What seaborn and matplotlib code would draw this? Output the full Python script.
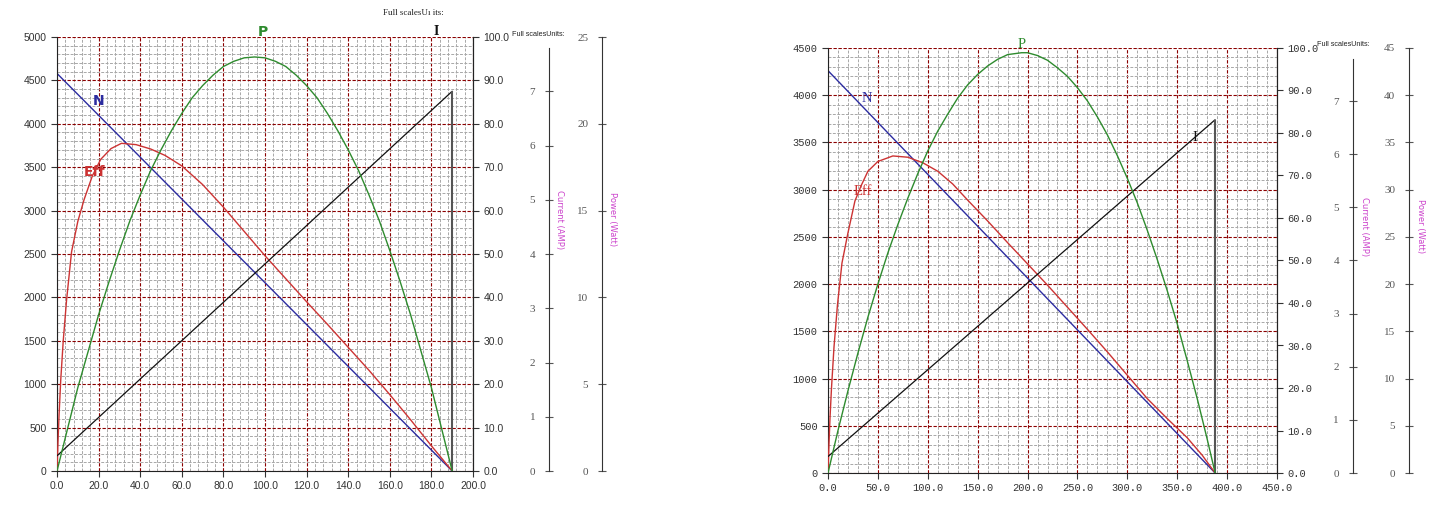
import numpy as np
import seaborn as sns
import matplotlib.pyplot as plt
from matplotlib.ticker import MultipleLocator, FormatStrFormatter

# ---- left motor (torque 0-200) ----
l_torque_n = [0, 190]
l_speed = [4580, 0]
l_torque_i = [0, 190]
l_current = [0.28, 7.0]
l_torque_eff = [0, 0.5, 1, 1.8, 3, 4.6, 7, 10, 13, 17, 21, 26, 31, 38, 45, 52, 60, 70,
                80, 90, 100, 110, 120, 130, 140, 150, 160, 170, 180, 190]
l_eff = [0, 7, 13, 21, 30, 39.4, 50.5, 57.5, 62.5, 68, 71.8, 74.3, 75.5, 75.2, 74.2, 72.7,
         70.3, 66.0, 60.8, 55.2, 49.6, 44.3, 39.0, 33.8, 28.5, 23.2, 17.6, 11.8, 5.8, 0]
l_torque_p = [0, 5, 10, 15, 20, 25, 30, 35, 40, 45, 50, 55, 60, 65, 70, 75, 80, 85, 90, 95,
              100, 105, 110, 115, 120, 125, 130, 135, 140, 145, 150, 155, 160, 165, 170,
              175, 180, 185, 190]
l_power = [0, 2.4, 4.8, 6.9, 9.0, 10.9, 12.7, 14.4, 15.9, 17.3, 18.5, 19.6, 20.6, 21.5, 22.2,
           22.8, 23.3, 23.6, 23.8, 23.85, 23.8, 23.6, 23.3, 22.8, 22.2, 21.5, 20.6, 19.6,
           18.5, 17.3, 15.9, 14.4, 12.7, 10.9, 9.0, 6.9, 4.8, 2.4, 0]

# ---- right motor (torque 0-450) ----
r_torque_n = [0, 388]
r_speed = [4260, 0]
r_torque_i = [0, 388]
r_current = [0.31, 6.65]
r_torque_eff = [0, 1, 2, 3.5, 6, 9.5, 14, 20, 27, 33, 40, 50, 65, 80, 95, 110, 125, 140,
                160, 180, 200, 220, 240, 260, 280, 300, 320, 340, 360, 375, 388]
r_eff = [0, 6.9, 12.9, 20, 29.6, 39.6, 49.4, 56.5, 64, 67.5, 71, 73.3, 74.6, 74.3, 73,
         71, 68, 64.2, 59.3, 54.2, 49.2, 44.2, 39, 33.8, 28.5, 23, 17.5, 12.8, 8.3, 4.2, 0]
r_torque_p = [0, 10, 20, 30, 40, 50, 60, 70, 80, 90, 100, 110, 120, 130, 140, 150, 160,
              170, 180, 194, 200, 210, 220, 230, 240, 250, 260, 270, 280, 290, 300, 310,
              320, 330, 340, 350, 360, 370, 380, 388]
r_power = [0, 4.5, 8.7, 12.7, 16.5, 20.0, 23.3, 26.3, 29.1, 31.7, 34.1, 36.2, 38.0, 39.7,
           41.1, 42.2, 43.1, 43.8, 44.3, 44.5, 44.5, 44.2, 43.7, 42.9, 42.0, 40.8, 39.4,
           37.7, 35.8, 33.6, 31.2, 28.6, 25.7, 22.6, 19.3, 15.8, 11.9, 7.9, 3.6, 0]

C_N, C_EFF, C_P, C_I = '#2c2ca0', '#cc3333', '#2e8b2e', '#111111'
MAJ, MIN = '#8b0000', '#a8a8a8'
LBL = '#cc44cc'

sns.set_style('white')
fig = plt.figure(figsize=(14.36, 5.11), dpi=100)


def chart(rect, xmax, xmaj, ymax, pmax, torque_n, speed, torque_i, current,
          torque_eff, eff, torque_p, power, tick_font, cur_pos, pow_pos):
    ax = fig.add_axes(rect)
    ax.set_xlim(0, xmax)
    ax.set_ylim(0, ymax)
    ax.xaxis.set_major_locator(MultipleLocator(xmaj))
    ax.xaxis.set_minor_locator(MultipleLocator(xmaj / 5))
    ax.yaxis.set_major_locator(MultipleLocator(500))
    ax.yaxis.set_minor_locator(MultipleLocator(100))
    ax.xaxis.set_major_formatter(FormatStrFormatter('%.1f'))
    ax.grid(which='minor', color=MIN, ls=(0, (3, 1.5)), lw=0.7)
    ax.grid(which='major', color=MAJ, ls=(0, (3, 1.5)), lw=0.8)
    ax.tick_params(which='major', direction='out', length=4, width=0.8, labelsize=7.5,
                   colors='#333', left=True, bottom=True)
    ax.tick_params(which='minor', length=0)
    for t in ax.get_xticklabels() + ax.get_yticklabels():
        t.set_family(tick_font)
    ax.spines['top'].set_visible(False)
    for s in ['left', 'bottom', 'right']:
        ax.spines[s].set_color('#222')
    sns.lineplot(x=torque_n, y=speed, ax=ax, color=C_N, lw=1)

    # efficiency axis 0-100
    ae = ax.twinx()
    ae.set_ylim(0, 100)
    ae.yaxis.set_major_locator(MultipleLocator(10))
    ae.yaxis.set_major_formatter(FormatStrFormatter('%.1f'))
    ae.tick_params(direction='out', length=4, labelsize=7.5, colors='#333')
    for t in ae.get_yticklabels():
        t.set_family(tick_font)
    for s in ['left', 'top', 'bottom']:
        ae.spines[s].set_visible(False)
    ae.spines['right'].set_color('#222')
    sns.lineplot(x=torque_eff, y=eff, ax=ae, color=C_EFF, lw=1)
    ae.set_ylabel('')

    # current axis
    ac = ax.twinx()
    ac.set_ylim(0, 8)
    ac.set_yticks(range(0, 8))
    ac.yaxis.tick_left()
    for s in ['right', 'top', 'bottom']:
        ac.spines[s].set_visible(False)
    ac.spines['left'].set_position(('axes', cur_pos))
    ac.spines['left'].set_bounds(0, 7.8)
    ac.spines['left'].set_color('#333')
    ac.tick_params(direction='inout', length=6, labelsize=8, colors='#555', pad=7)
    for t in ac.get_yticklabels():
        t.set_family('Liberation Serif')
    sns.lineplot(x=torque_i, y=current, ax=ac, color=C_I, lw=0.9)
    ac.vlines(torque_i[-1], 0, current[-1], color='#555', lw=1.5)
    ac.set_ylabel('')
    ac.text(cur_pos + 0.015, 0.58, 'Current (AMP)', transform=ac.transAxes, rotation=270,
            color=LBL, fontsize=6, va='center', ha='left')

    # power axis
    ap = ax.twinx()
    ap.set_ylim(0, pmax)
    ap.yaxis.set_major_locator(MultipleLocator(5))
    ap.yaxis.tick_left()
    for s in ['right', 'top', 'bottom']:
        ap.spines[s].set_visible(False)
    ap.spines['left'].set_position(('axes', pow_pos))
    ap.spines['left'].set_color('#333')
    ap.tick_params(direction='inout', length=6, labelsize=8, colors='#555', pad=7)
    for t in ap.get_yticklabels():
        t.set_family('Liberation Serif')
    sns.lineplot(x=torque_p, y=power, ax=ap, color=C_P, lw=1)
    ap.set_ylabel('')
    ap.text(pow_pos + 0.015, 0.58, 'Power (Watt)', transform=ap.transAxes, rotation=270,
            color=LBL, fontsize=6, va='center', ha='left')
    ax.set_xlabel('')
    ax.set_ylabel('')
    return ax


axl = chart([57 / 1436, 40 / 511, 416 / 1436, 434 / 511], 200, 20, 5000, 25,
            l_torque_n, l_speed, l_torque_i, l_current, l_torque_eff, l_eff,
            l_torque_p, l_power, 'Liberation Sans', 1.183, 1.31)
axl.text(20.2, 4263, 'N', color=C_N, fontsize=10, fontweight='bold', ha='center', va='center')
axl.text(17.8, 3445, 'Eff', color=C_EFF, fontsize=10, fontweight='bold', ha='center', va='center')
axl.text(99.2, 5060, 'P', color=C_P, fontsize=10, fontweight='bold', ha='center', va='center')
axl.text(182.2, 5060, 'I', color=C_I, fontsize=10, fontweight='bold', ha='center', va='center',
         family='Liberation Serif')

axr = chart([828 / 1436, 38 / 511, 449 / 1436, 425 / 511], 450, 50, 4500, 45,
            r_torque_n, r_speed, r_torque_i, r_current, r_torque_eff, r_eff,
            r_torque_p, r_power, 'Liberation Mono', 1.169, 1.294)
axr.text(39.4, 3960, 'N', color=C_N, fontsize=10.5, ha='center', va='center', family='Liberation Serif')
axr.text(35, 2979, 'Eff', color=C_EFF, fontsize=10.5, ha='center', va='center', family='Liberation Serif')
axr.text(194.5, 4540, 'P', color=C_P, fontsize=10.5, ha='center', va='center', family='Liberation Serif')
axr.text(367.6, 3557, 'I', color=C_I, fontsize=10.5, ha='center', va='center', family='Liberation Serif')

fig.text(383 / 1436, 1 - 13 / 511, 'Full scalesU\u0131 its:', fontsize=6.5, family='Liberation Serif',
         va='center', color='#222')
fig.text(512 / 1436, 1 - 34 / 511, 'Full scalesUnits:', fontsize=5.2, family='Liberation Sans',
         va='center', color='#222')
fig.text(1317 / 1436, 1 - 45 / 511, 'Full scalesUnits:', fontsize=5.2, family='Liberation Sans',
         va='center', color='#222')

fig.savefig('out.png', dpi=100)
